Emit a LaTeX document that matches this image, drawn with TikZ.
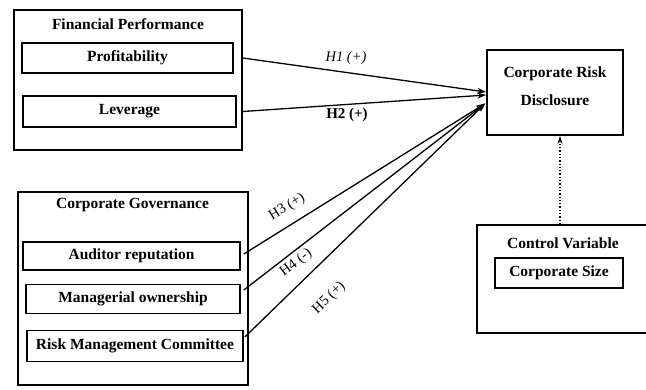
\documentclass[tikz,border=0pt]{standalone}
\usepackage{fontspec}
\setmainfont{Liberation Serif}
\usetikzlibrary{arrows.meta,calc}
\begin{document}
\begin{tikzpicture}[x=1pt,y=-1pt,
  outerbox/.style={draw,line width=1.6pt,inner sep=0pt},
  innerbox/.style={draw,line width=1.6pt,inner sep=0pt,font=\fontsize{15.5}{18}\selectfont\bfseries},
  ttl/.style={font=\fontsize{15.5}{18}\selectfont\bfseries,inner sep=0pt},
  hyp/.style={font=\fontsize{14.5}{17}\selectfont,inner sep=0pt},
  link/.style={line width=1.3pt,-{Stealth[length=9pt,width=6pt]}},
  dotlink/.style={line width=1.3pt,dotted,-{Stealth[length=8pt,width=5pt]}}]
\useasboundingbox (0,0) rectangle (646,389);
\clip (0,0) rectangle (646,389);
% Financial performance
\node[outerbox,minimum width=228pt,minimum height=140pt] (fp) at (128,80) {};
\node[ttl] (fpt) at (128,24) {Financial Performance};
\node[innerbox,minimum width=211pt,minimum height=30pt] (prof) at (127.5,58) {Profitability};
\node[innerbox,minimum width=213pt,minimum height=31pt] (lev) at (129.5,111.5) {Leverage};
% Corporate governance
\node[outerbox,minimum width=230pt,minimum height=193pt] (cg) at (133,288.5) {};
\node[ttl] (cgt) at (132.5,205) {Corporate Governance};
\node[innerbox,minimum width=217pt,minimum height=28pt] (aud) at (131.5,256) {Auditor reputation};
\node[innerbox,minimum width=214pt,minimum height=29pt] (man) at (133,299) {Managerial ownership};
\node[innerbox,minimum width=216pt,minimum height=31pt] (risk) at (135,346) {Risk Management Committee};
% Corporate risk disclosure
\node[outerbox,minimum width=136pt,minimum height=85pt] (crd) at (555,92.5) {};
\node[ttl,align=center,font=\fontsize{15.5}{28}\selectfont\bfseries] (crdt) at (555,86) {Corporate Risk\\Disclosure};
% Control variable
\node[outerbox,minimum width=175pt,minimum height=108pt] (cv) at (564.5,279) {};
\node[ttl] (cvt) at (563,243) {Control Variable};
\node[innerbox,minimum width=128pt,minimum height=30pt] (size) at (559,273) {Corporate Size};
% connectors
\coordinate (e1) at ($(crd.west)+(0,-0.5)$);
\coordinate (e2) at ($(crd.west)+(0,2.5)$);
\coordinate (e3) at ($(crd.west)+(-1,11)$);
\draw[link] (prof.east -| fp.east) -- (e1);
\draw[link] (lev.east -| fp.east) -- (e2);
\draw[link] ($(aud.east)+(3,-2)$) -- (e3);
\draw[link] ($(man.east)+(3,-9)$) -- (e3);
\draw[link] ($(risk.east)+(1,-9)$) -- (e3);
\draw[dotlink] (cv.north -| 560,0) -- (crd.south -| 560,0);
% labels
\node[hyp,font=\fontsize{14.5}{17}\selectfont\itshape] (h1) at (346,58) {H1 (+)};
\node[hyp,font=\fontsize{15}{17}\selectfont\bfseries] (h2) at (347,115) {H2 (+)};
\node[hyp,rotate=31] (h3) at (287,207) {H3 (+)};
\node[hyp,rotate=37] (h4) at (296,263) {H4 (-)};
\node[hyp,rotate=44] (h5) at (329,298) {H5 (+)};
\end{tikzpicture}
\end{document}
